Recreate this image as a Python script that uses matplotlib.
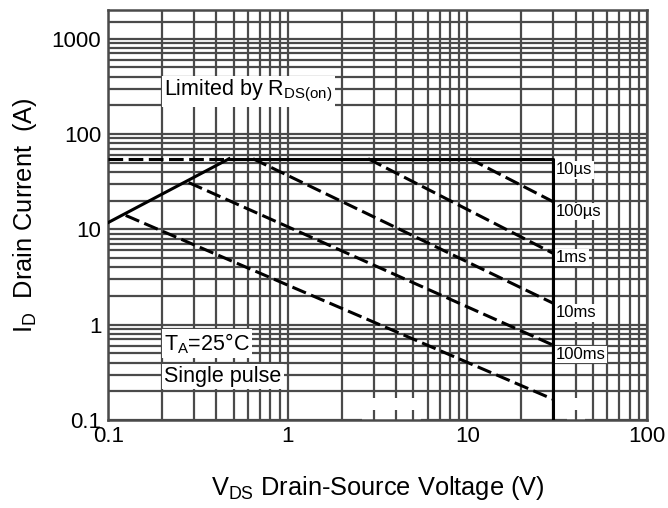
"""plot.py - safe operating area (SOA) chart, ID vs VDS on log-log axes."""

import matplotlib

matplotlib.use("Agg")  # headless backend
import matplotlib.pyplot as plt
from matplotlib.patches import Rectangle
from matplotlib.ticker import FixedLocator, NullFormatter

plt.rcParams["font.family"] = ["Liberation Sans", "DejaVu Sans"]
plt.rcParams["mathtext.fontset"] = "custom"
plt.rcParams["mathtext.rm"] = "Liberation Sans"
plt.rcParams["mathtext.it"] = "Liberation Sans:italic"
plt.rcParams["mathtext.bf"] = "Liberation Sans:bold"

# --- data ---
X_TICKS = [0.1, 1, 10, 100]
X_TICK_LABELS = ["0.1", "1", "10", "100"]
Y_TICKS = [0.1, 1, 10, 100, 1000]
Y_TICK_LABELS = ["0.1", "1", "10", "100", "1000"]

ID_MAX = 55.0      # A, package limit (plateau)
VDS_MAX = 30.0     # V, breakdown limit (vertical edge)

# RDS(on) limited line
RDS_V = [0.1, 0.47]
RDS_I = [11.8, 55.0]

# dashed continuation of the current limit left of the RDS(on) line
LIMIT_DASH_V = [0.1, 0.47]
LIMIT_DASH_I = [55.0, 55.0]

# 10us boundary: plateau then vertical edge at VDS_MAX
BOUND_V = [0.47, 30.0, 30.0]
BOUND_I = [55.0, 55.0, 0.1]

# pulse lines, start/end points (100us, 1ms, 10ms, 100ms, DC-ish)
PULSE_V = [[10.3, 30.0], [2.8, 30.0], [0.64, 30.0], [0.28, 30.0], [0.125, 30.0]]
PULSE_I = [[55.0, 19.5], [55.0, 5.6], [55.0, 1.68], [31.0, 0.61], [14.0, 0.165]]

PULSE_NAMES = ["10µs", "100µs", "1ms", "10ms", "100ms"]
PULSE_LABEL_I = [42.0, 15.4, 5.1, 1.33, 0.49]

# stretches of the bottom row where the grid was erased (only short ticks remain)
GRID_GAPS = [(2.6, 5.5), (36.0, 45.0)]
GAP_TICKS = [3, 4, 5, 40]

GRID = "#4a4a4a"
LW = 2.2
DASH = (0, (4.8, 1.8))


def main() -> None:
    fig = plt.figure(figsize=(6.68, 5.08), dpi=100)
    ax = fig.add_axes([108.3 / 668, 1 - 420 / 508, (647 - 108.3) / 668, 410 / 508])
    ax.set_xscale("log")
    ax.set_yscale("log")
    ax.set_xlim(0.1, 100)
    ax.set_ylim(0.1, 2000)

    # grid: every 1..9 per decade, plus the odd 1500 line at the top
    y_minor = [k * 10.0**e for e in range(-1, 3) for k in range(2, 10)] + [1500]
    ax.yaxis.set_minor_locator(FixedLocator(y_minor))
    ax.yaxis.set_minor_formatter(NullFormatter())
    ax.xaxis.set_minor_formatter(NullFormatter())
    ax.set_xticks(X_TICKS, labels=X_TICK_LABELS)
    ax.set_yticks(Y_TICKS, labels=Y_TICK_LABELS)
    ax.set_axisbelow(True)
    ax.grid(which="both", color=GRID, lw=1.6)
    ax.tick_params(which="both", length=0, labelsize=16)
    ax.tick_params(axis="x", pad=4)
    ax.tick_params(axis="y", pad=5)
    for s in ax.spines.values():
        s.set_color(GRID)
        s.set_linewidth(1.8)

    for lo, hi in GRID_GAPS:
        ax.add_patch(Rectangle((lo, 0.1), hi - lo, 0.072, facecolor="white",
                               edgecolor="none", zorder=0.8))
    ax.vlines(GAP_TICKS, 0, 0.025, transform=ax.get_xaxis_transform(),
              color=GRID, lw=1.6, zorder=0.9)

    # limits
    ax.plot(RDS_V, RDS_I, color="black", lw=LW, zorder=3)
    ax.plot(LIMIT_DASH_V, LIMIT_DASH_I, color="black", lw=LW, ls=DASH, zorder=3)
    ax.plot(BOUND_V, BOUND_I, color="black", lw=LW, zorder=3)
    for v, i in zip(PULSE_V, PULSE_I):
        ax.plot(v, i, color="black", lw=LW, ls=DASH, zorder=3)

    box = dict(facecolor="white", edgecolor="none", pad=1.5)
    for name, y in zip(PULSE_NAMES, PULSE_LABEL_I):
        ax.text(VDS_MAX * 1.04, y, name, fontsize=12, va="center", ha="left",
                bbox=dict(facecolor="white", edgecolor="none", pad=0.8), zorder=4)

    ax.text(0.205, 280, r"Limited by R$_{\mathrm{DS(on)}}$", fontsize=15.5,
            va="center", ha="left", bbox=box, zorder=4)
    ax.text(0.205, 0.63, r"T$_{\mathrm{A}}$=25°C", fontsize=15.5,
            va="center", ha="left", bbox=box, zorder=4)
    ax.text(0.205, 0.285, "Single pulse", fontsize=15.5,
            va="center", ha="left", bbox=box, zorder=4)

    ax.set_xlabel(r"$\mathrm{V_{DS}}$ Drain-Source Voltage (V)", fontsize=18.3,
                  labelpad=20)
    ax.set_ylabel(r"$\mathrm{I_D}$  Drain Current  (A)", fontsize=18.3, labelpad=9)

    fig.savefig("out.png", dpi=100)
    plt.close(fig)


if __name__ == "__main__":
    main()
